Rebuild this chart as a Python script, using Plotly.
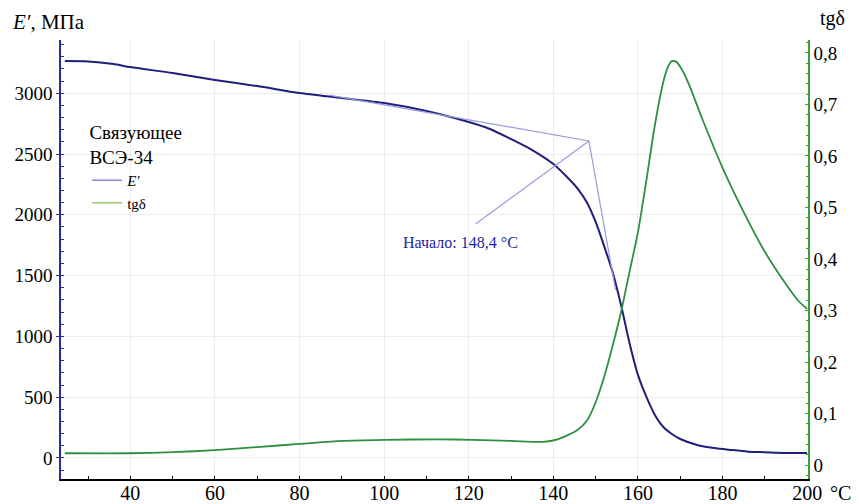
import plotly.graph_objects as go

# E' (storage modulus), MPa
temp_e = [24.5, 30, 36, 40, 50, 60, 70, 80, 90, 100, 110, 120, 125, 130, 135, 140, 143, 146,
          148, 150, 152, 154, 156, 158, 160, 162, 164, 166, 168, 170, 174, 178, 182, 186, 190, 195, 200]
e_mod = [3265, 3262, 3240, 3215, 3166, 3109, 3059, 3002, 2961, 2919, 2854, 2763, 2706, 2623, 2533,
         2418, 2319, 2204, 2097, 1941, 1743, 1530, 1258, 946, 683, 502, 354, 255, 197, 156, 107,
         82, 66, 52, 47, 41, 41]

# tg delta
temp_t = [24.5, 40, 50, 60, 70, 80, 90, 100, 113, 121, 130, 137.6, 141, 145.7, 148, 150, 152, 154,
          156, 158, 160, 162, 164, 166, 167, 168, 169, 170, 172, 175, 180, 185, 190, 195, 198, 200]
tgd = [0.023, 0.023, 0.025, 0.029, 0.035, 0.041, 0.047, 0.049, 0.050, 0.049, 0.047, 0.045, 0.050,
       0.068, 0.087, 0.122, 0.171, 0.231, 0.297, 0.375, 0.452, 0.553, 0.660, 0.744, 0.771, 0.784,
       0.783, 0.773, 0.740, 0.676, 0.577, 0.491, 0.414, 0.351, 0.318, 0.303]

# onset construction (tangent lines)
onset_t = [87, 148.4, 154.7, None, 148.4, 121.6]
onset_e = [2985, 2607, 1382, None, 2607, 1924]
onset_label = "Начало: 148,4 °C"
onset_label_pos = (118, 1776)

x_ticks = [40, 60, 80, 100, 120, 140, 160, 180, 200]
y_ticks = [0, 500, 1000, 1500, 2000, 2500, 3000]
y2_ticks = [0, 0.1, 0.2, 0.3, 0.4, 0.5, 0.6, 0.7, 0.8]
y2_text = ["0", "0,1", "0,2", "0,3", "0,4", "0,5", "0,6", "0,7", "0,8"]

FONT = "Liberation Serif, Times New Roman, DejaVu Serif, serif"
NAVY = "#1f1f7a"
GREEN = "#2f8f3f"

fig = go.Figure()
fig.add_trace(go.Scatter(x=temp_e, y=e_mod, mode="lines", showlegend=False,
                         line=dict(color=NAVY, width=2, shape="spline", smoothing=0.7), yaxis="y"))
fig.add_trace(go.Scatter(x=temp_t, y=tgd, mode="lines", showlegend=False,
                         line=dict(color=GREEN, width=1.8, shape="spline", smoothing=0.7), yaxis="y2"))
fig.add_trace(go.Scatter(x=onset_t, y=onset_e, mode="lines", showlegend=False,
                         line=dict(color="#9a9ae0", width=1.2), yaxis="y"))
# legend entries (lighter swatches as in the reference)
fig.add_trace(go.Scatter(x=[None], y=[None], mode="lines", name="<i>E′</i>",
                         line=dict(color="#8a8ad8", width=1.5)))
fig.add_trace(go.Scatter(x=[None], y=[None], mode="lines", name="tgδ",
                         line=dict(color="#9cc86a", width=1.5)))

fig.add_annotation(x=onset_label_pos[0], y=onset_label_pos[1], xref="x", yref="y",
                   text=onset_label, showarrow=False,
                   font=dict(family=FONT, size=16, color="#1e1ea8"))
fig.add_annotation(x=-0.068, y=1.0, xref="paper", yref="paper", xanchor="left", yanchor="bottom",
                   yshift=4, text="<i>E′</i>, МПа", showarrow=False,
                   font=dict(family=FONT, size=21, color="black"))
fig.add_annotation(x=1.0, y=1.0, xref="paper", yref="paper", xanchor="left", yanchor="bottom",
                   xshift=10, yshift=8, text="tgδ", showarrow=False,
                   font=dict(family=FONT, size=20, color="black"))
fig.add_annotation(x=1.0, y=0.0, xref="paper", yref="paper", xanchor="left", yanchor="top",
                   xshift=20, yshift=-1, text="°C", showarrow=False,
                   font=dict(family=FONT, size=20, color="black"))

fig.update_layout(
    width=860, height=504,
    margin=dict(l=61, r=52, t=40, b=25, autoexpand=False),
    paper_bgcolor="white", plot_bgcolor="white",
    font=dict(family=FONT, size=19, color="black"),
    showlegend=True,
    legend=dict(x=0.035, y=0.83, xanchor="left", yanchor="top",
                bgcolor="rgba(0,0,0,0)", borderwidth=0,
                title=dict(text="Связующее<br>ВСЭ-34", side="top center",
                           font=dict(family=FONT, size=19)),
                font=dict(family=FONT, size=15), tracegroupgap=0),
    xaxis=dict(range=[23.6, 200.2], tickvals=x_ticks, showgrid=True, gridcolor="#ececf0",
               gridwidth=1, zeroline=False, showline=True, linecolor="black", linewidth=1.5,
               ticks="inside", ticklen=3, tickcolor="black", automargin=False,
               ticklabelstandoff=-5,
               minor=dict(dtick=10, ticks="inside", ticklen=3, tickcolor="black", showgrid=False),
               tickfont=dict(family=FONT, size=20)),
    yaxis=dict(range=[-173, 3438], tickvals=y_ticks, showgrid=True, gridcolor="#ececf0",
               gridwidth=1, zeroline=False, showline=True, linecolor="#2a2aa0", linewidth=1.5,
               ticks="outside", ticklen=3, tickcolor="#2a2aa0", automargin=False,
               minor=dict(dtick=100, ticks="inside", ticklen=3, tickcolor="#2a2aa0", showgrid=False),
               tickfont=dict(family=FONT, size=19)),
    yaxis2=dict(range=[-0.027, 0.825], overlaying="y", side="right", anchor="x",
                tickvals=y2_ticks, ticktext=y2_text, showgrid=False, zeroline=False,
                showline=True, linecolor="#3aa03a", linewidth=1.5, automargin=False,
                ticks="inside", ticklen=3, tickcolor="#3aa03a",
                minor=dict(dtick=0.02, ticks="inside", ticklen=2, tickcolor="#3aa03a"),
                tickfont=dict(family=FONT, size=19)),
)

fig.write_html("out.html", config={"displayModeBar": False},
               post_script="document.body.style.margin='0px';")
